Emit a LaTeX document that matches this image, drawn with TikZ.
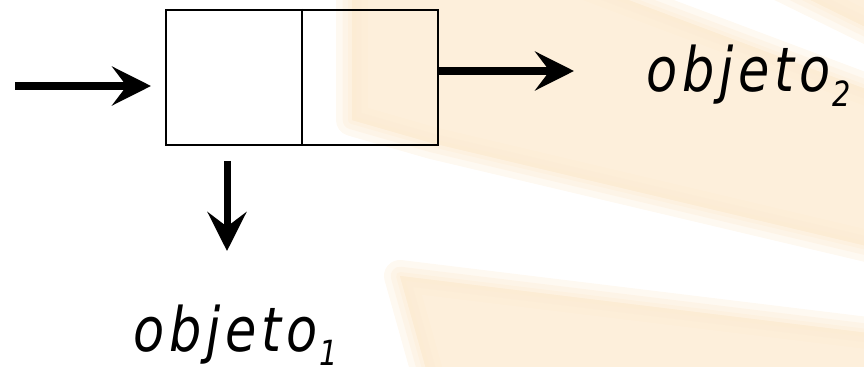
\documentclass[tikz,border=0pt]{standalone}
\usepackage{fontspec}
\newfontfamily\lblfont{DejaVu Sans}[FakeStretch=0.83, LetterSpace=8]
\usetikzlibrary{arrows.meta}
\definecolor{ray}{HTML}{FCEAD0}
\newcommand{\lblsub}[1]{\hspace{1pt}\raisebox{-11pt}{\fontsize{26pt}{28pt}\selectfont #1}}
\begin{document}
\begin{tikzpicture}[x=0.75pt,y=-0.75pt,
  arr/.style={line width=6pt, -{Stealth[length=29.25pt,width=29.25pt,inset=11pt]}},
  boxline/.style={line width=1.5pt},
  lbl/.style={inner sep=0pt, anchor=base west, font=\lblfont\itshape\fontsize{46pt}{50pt}\selectfont},
  bgray/.style={fill=ray, draw=ray, line join=round, opacity=0.3}
]
\useasboundingbox (0,0) rectangle (864,367);
% faint background rays (soft edges)
\begin{scope}
\clip (0,0) rectangle (864,367);
\foreach \w in {24pt,14pt,6pt,0.1pt}{
  \filldraw[bgray, line width=\w] (352,-20) -- (575,-20) -- (884,96) -- (884,250) -- (432,143) -- (352,120) -- cycle;
  \filldraw[bgray, line width=\w] (400,276) -- (884,335) -- (884,390) -- (432,390) -- cycle;
  \filldraw[bgray, line width=\w] (770,-20) -- (884,-20) -- (884,36) -- cycle;
}
\end{scope}
% box
\node[draw, boxline, minimum width=204pt, minimum height=101.25pt, inner sep=0pt] (box) at (302,77.5) {};
\draw[boxline] (box.north) -- (box.south);
% arrows
\coordinate (in) at (15,86);
\draw[arr, shorten >=10.5pt] (in) -- (box.west |- in);
\coordinate (o2tip) at (574,71);
\draw[arr] (box.east |- o2tip) -- (o2tip);
\coordinate (dtip) at (227,251);
\draw[arr, line width=5.25pt, shorten <=11.25pt] (box.south -| dtip) -- (dtip);
% labels
\node[lbl] (o2) at (646,92) {objeto\lblsub{2}};
\node[lbl] (o1) at (133,351) {objeto\lblsub{1}};
\end{tikzpicture}
\end{document}
